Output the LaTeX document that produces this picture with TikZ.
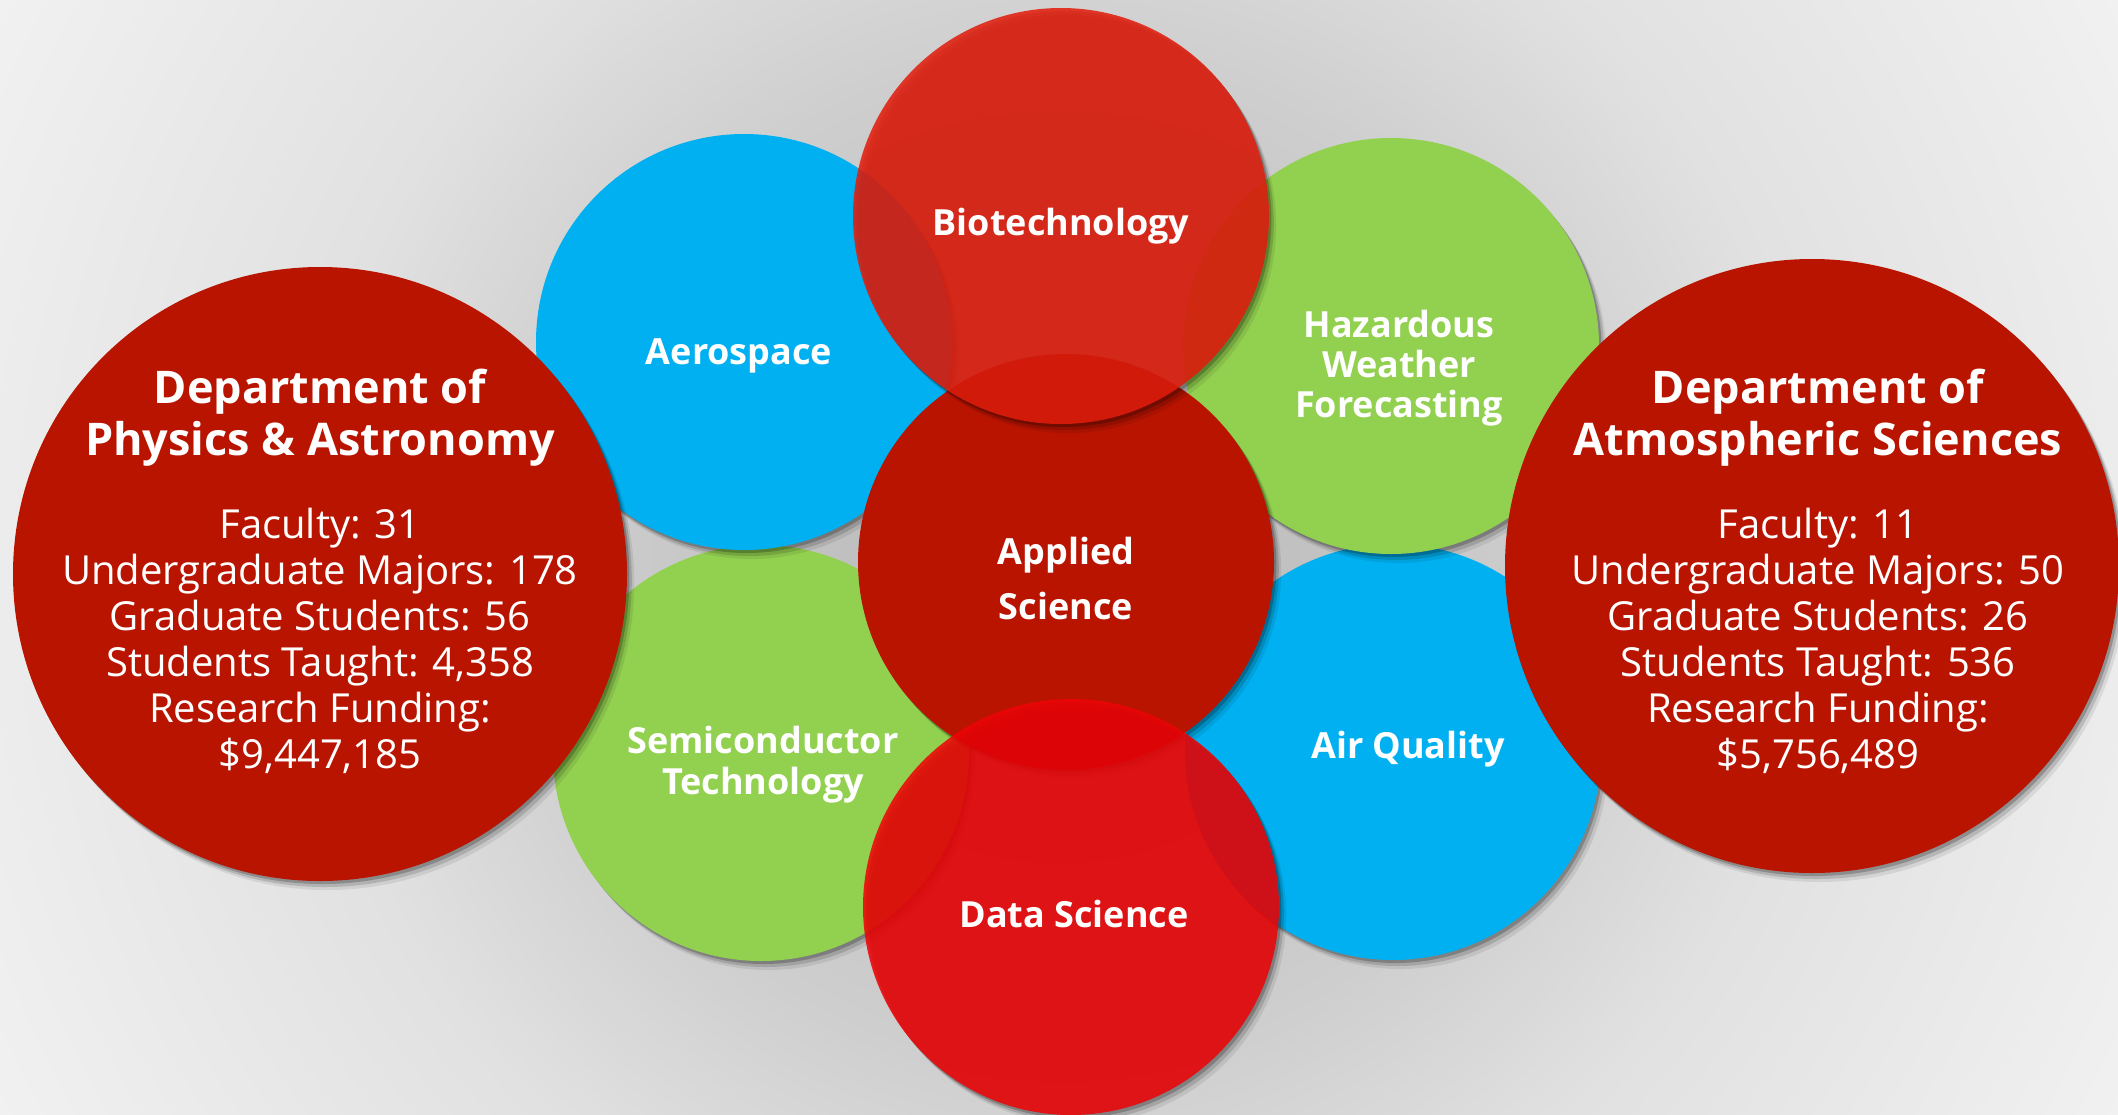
\documentclass[tikz,border=0pt]{standalone}
\usepackage{fontspec}
\setmainfont{Open Sans}
\usetikzlibrary{shadows}
\definecolor{deptred}{RGB}{184,20,0}
\definecolor{skyblue}{RGB}{0,176,240}
\definecolor{leafgreen}{RGB}{146,208,80}
\definecolor{biored}{RGB}{225,29,13}
\definecolor{datared}{RGB}{237,4,7}
\definecolor{glowa}{RGB}{182,182,182}
\definecolor{glowb}{RGB}{206,206,206}
\definecolor{glowc}{RGB}{225,225,225}
\definecolor{glowd}{RGB}{234,234,234}
\definecolor{glowe}{RGB}{243,243,243}
\pgfdeclareradialshading{bgglow}{\pgfpoint{0bp}{0bp}}{%
  color(0bp)=(glowa); color(250bp)=(glowb); color(375bp)=(glowc);
  color(500bp)=(glowd); color(625bp)=(glowe); color(700bp)=(glowe)}
\tikzset{
  bubble/.style={circle, fill=#1, inner sep=0pt, outer sep=0pt, minimum size=208pt,
    drop shadow={shadow xshift=1.2pt, shadow yshift=-1.5pt, opacity=0.22, fill=black},
    drop shadow={shadow xshift=2.4pt, shadow yshift=-3pt, opacity=0.14, fill=black},
    drop shadow={shadow xshift=3.6pt, shadow yshift=-4.5pt, opacity=0.08, fill=black}},
  bigbubble/.style={bubble=deptred, minimum size=307pt},
  glass/.style={bubble=#1, fill opacity=0.87},
  lbl/.style={text=white, inner sep=0pt, align=center,
    font=\fontsize{18}{20}\selectfont\bfseries},
  depttitle/.style={text=white, inner sep=0pt, align=center,
    font=\fontsize{22.5}{26}\selectfont\bfseries},
  deptstats/.style={text=white, inner sep=0pt, align=center,
    font=\fontsize{20}{23}\selectfont}
}
\begin{document}
\begin{tikzpicture}[x=0.5pt, y=-0.5pt]
\useasboundingbox (0,0) rectangle (2118,1114);
%
\begin{scope}
\clip (0,0) rectangle (2118,1114);
\node[inner sep=0pt] (glow) at (1060,560) {\pgfuseshading{bgglow}};
\end{scope}
%
\node[bubble=leafgreen] (semi) at (761,753) {};
\node[bubble=skyblue] (airq) at (1393,752) {};
\node[bubble=skyblue] (aero) at (744,342) {};
\node[bubble=leafgreen] (hazard) at (1391,346) {};
\node[bubble=deptred] (applied) at (1066,562) {};
\node[glass=biored] (biotech) at (1061,216) {};
\node[glass=datared] (data) at (1071,907) {};
\node[bigbubble] (physics) at (320,574) {};
\node[bigbubble] (atmos) at (1812,566) {};
%
\node[lbl] (aerolbl) at (739,356) {Aerospace};
\node[lbl] (biolbl) at (1061,226) {Biotechnology};
\node[lbl] (hazlbl) at (1399,368) {Hazardous\\Weather\\Forecasting};
\node[lbl, font=\fontsize{18}{27.5}\selectfont\bfseries] (applbl) at (1066,578) {Applied\\Science};
\node[lbl, font=\fontsize{18}{20.5}\selectfont\bfseries] (semilbl) at (763,765) {Semiconductor\\Technology};
\node[lbl] (airqlbl) at (1408,749) {Air Quality};
\node[lbl] (datalbl) at (1074,914) {Data Science};
%
\node[depttitle] (phystitle) at (320,418) {Department of\\Physics \& Astronomy};
\node[deptstats] (physstats) at (320,641) {Faculty: 31\\Undergraduate Majors: 178\\Graduate Students: 56\\Students Taught: 4,358\\Research Funding:\\\$9,447,185};
%
\node[depttitle] (atmostitle) at (1818,418) {Department of\\Atmospheric Sciences};
\node[deptstats] (atmosstats) at (1818,641) {Faculty: 11\\Undergraduate Majors: 50\\Graduate Students: 26\\Students Taught: 536\\Research Funding:\\\$5,756,489};
%
\end{tikzpicture}
\end{document}
